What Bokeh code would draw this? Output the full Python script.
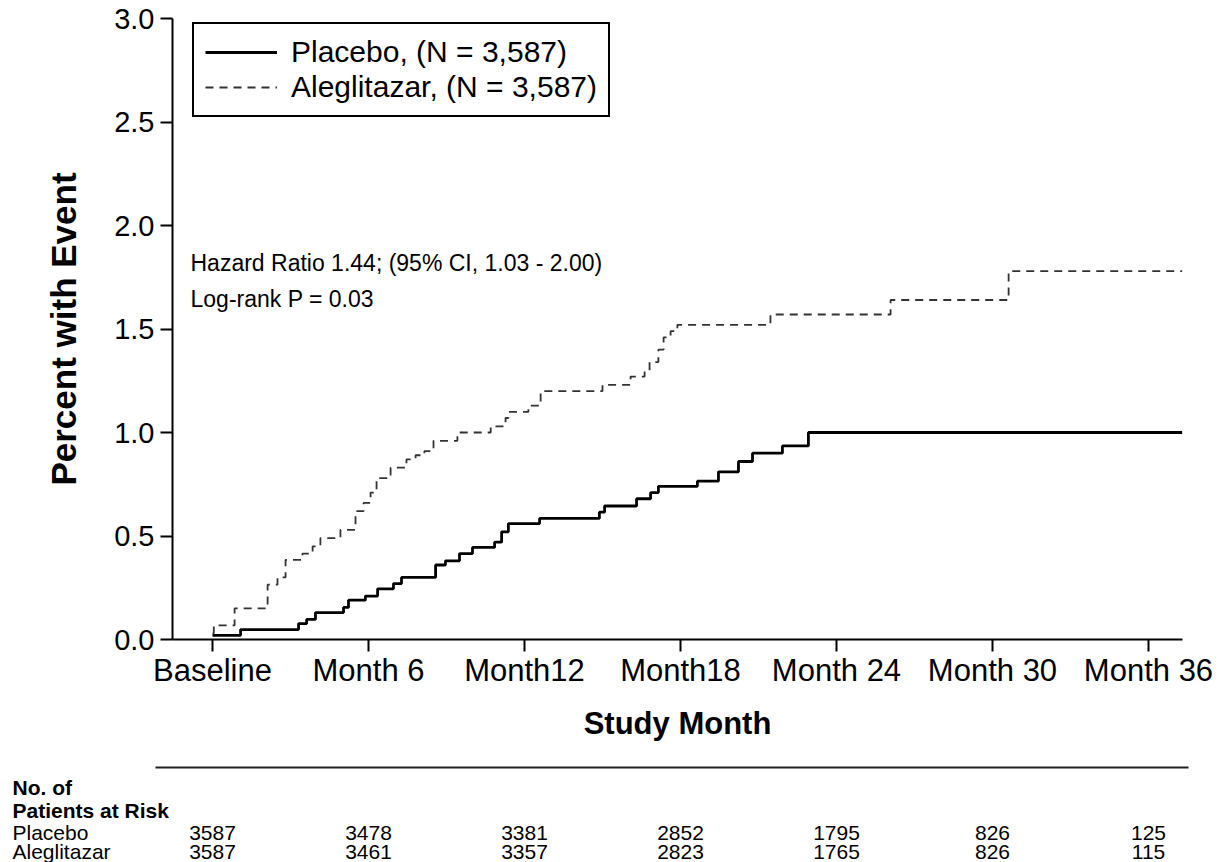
from bokeh.plotting import figure
from bokeh.models import (Range1d, Legend, LegendItem, Label, FixedTicker, PrintfTickFormatter,
                          ColumnDataSource, BoxAnnotation)
from bokeh.layouts import column
from bokeh.embed import file_html
from bokeh.resources import INLINE
from bokeh.core.properties import value

# ---------------- data ----------------
placebo_month = [0, 1.08, 3.31, 3.62, 3.96, 5.04, 5.23, 5.88, 6.35, 6.96, 7.27, 8.58, 8.96, 9.5,
                 10.0, 10.85, 11.12, 11.38, 12.58, 14.88, 15.08, 16.31, 16.85, 17.15, 18.65, 19.46,
                 20.23, 20.77, 21.92, 22.92, 37.3]
placebo_pct = [0.02, 0.048, 0.077, 0.097, 0.13, 0.155, 0.19, 0.21, 0.245, 0.27, 0.30, 0.36, 0.38, 0.415,
               0.445, 0.47, 0.52, 0.56, 0.585, 0.615, 0.645, 0.68, 0.71, 0.74, 0.765, 0.81,
               0.86, 0.90, 0.935, 1.0, 1.0]

alegl_month = [0, 0.05, 0.85, 2.12, 2.5, 2.81, 3.46, 3.85, 4.15, 4.92, 5.5, 5.81, 6.08, 6.31, 6.85,
               7.46, 7.81, 8.15, 8.5, 9.42, 10.7, 11.27, 11.38, 12.15, 12.62, 15.0, 16.08, 16.62,
               16.81, 17.15, 17.35, 17.62, 17.88, 21.46, 26.08, 30.62, 37.3]
alegl_pct = [0.03, 0.068, 0.15, 0.265, 0.30, 0.385, 0.415, 0.45, 0.49, 0.53, 0.62, 0.66, 0.71, 0.78, 0.83,
             0.87, 0.89, 0.91, 0.96, 1.0, 1.03, 1.07, 1.10, 1.13, 1.20, 1.23, 1.27, 1.30,
             1.34, 1.40, 1.46, 1.49, 1.52, 1.57, 1.64, 1.78, 1.78]

tick_months = [0, 6, 12, 18, 24, 30, 36]
tick_labels = ["Baseline", "Month 6", "Month12", "Month18", "Month 24", "Month 30", "Month 36"]
y_ticks = [0.0, 0.5, 1.0, 1.5, 2.0, 2.5, 3.0]

risk_placebo = [3587, 3478, 3381, 2852, 1795, 826, 125]
risk_alegl = [3587, 3461, 3357, 2823, 1765, 826, 115]

FONT = "Liberation Sans"

# ---------------- layout constants ----------------
W = 1227
H1 = 752
H2 = 110
PX_PER_MONTH = 26.0
LEFT = 172          # frame left
FRAME_W = 1010
RIGHT = W - LEFT - FRAME_W
TOP = 18
FRAME_H = 621
x0 = -40.0 / PX_PER_MONTH
x1 = x0 + FRAME_W / PX_PER_MONTH
ZERO_X = LEFT - x0 * PX_PER_MONTH   # screen x of month 0

# ---------------- main figure ----------------
p = figure(width=W, height=H1, output_backend="svg", toolbar_location=None,
           x_range=Range1d(x0, x1), y_range=Range1d(0, 3.0),
           min_border_left=LEFT, min_border_right=RIGHT,
           min_border_top=TOP, min_border_bottom=H1 - TOP - FRAME_H)
p.outline_line_color = None
p.xgrid.grid_line_color = None
p.ygrid.grid_line_color = None
p.background_fill_color = "white"
p.border_fill_color = "white"

r_pl = p.step(placebo_month, placebo_pct, mode="after", line_color="black", line_width=2.8)
r_al = p.step(alegl_month, alegl_pct, mode="after", line_color="#333333", line_width=1.8,
              line_dash="8 6")

xa = p.xaxis[0]
xa.ticker = FixedTicker(ticks=tick_months)
xa.major_label_overrides = {m: lab for m, lab in zip(tick_months, tick_labels)}
xa.minor_tick_line_color = None
xa.major_tick_in = 0
xa.major_tick_out = 12
xa.major_tick_line_width = 2
xa.axis_line_width = 2
xa.major_label_text_font = FONT
xa.major_label_text_font_size = "31px"
xa.major_label_text_color = "black"
xa.major_label_standoff = 1
xa.axis_label = "Study Month"
xa.axis_label_text_font = FONT
xa.axis_label_text_font_style = "bold"
xa.axis_label_text_font_size = "31px"
xa.axis_label_text_color = "black"
xa.axis_label_standoff = 15

ya = p.yaxis[0]
ya.ticker = FixedTicker(ticks=y_ticks)
ya.formatter = PrintfTickFormatter(format="%.1f")
ya.minor_tick_line_color = None
ya.major_tick_in = 0
ya.major_tick_out = 12
ya.major_tick_line_width = 2
ya.axis_line_width = 2
ya.major_label_text_font = FONT
ya.major_label_text_font_size = "29px"
ya.major_label_text_color = "black"
ya.major_label_standoff = 6
ya.axis_label = "Percent with Event"
ya.axis_label_text_font = FONT
ya.axis_label_text_font_style = "bold"
ya.axis_label_text_font_size = "35px"
ya.axis_label_text_color = "black"
ya.axis_label_standoff = 28

legend = Legend(items=[LegendItem(label="Placebo, (N = 3,587)", renderers=[r_pl]),
                       LegendItem(label="Aleglitazar, (N = 3,587)", renderers=[r_al])],
                location=(20, 522))
legend.label_text_font = FONT
legend.label_text_font_size = "30px"
legend.label_text_color = "black"
legend.glyph_width = 72
legend.glyph_height = 30
legend.label_height = 30
legend.label_standoff = 14
legend.spacing = 1
legend.padding = 11
legend.margin = 0
legend.border_line_color = "black"
legend.border_line_alpha = 1.0
legend.border_line_width = 2
legend.background_fill_alpha = 1.0
p.add_layout(legend, "center")

p.add_layout(Label(x=-0.846, y=1.82, text="Hazard Ratio 1.44; (95% CI, 1.03 - 2.00)",
                   text_font=FONT, text_font_size="23px", text_color="black",
                   text_baseline="alphabetic"))
p.add_layout(Label(x=-0.846, y=1.647, text="Log-rank P = 0.03",
                   text_font=FONT, text_font_size="23px", text_color="black",
                   text_baseline="alphabetic"))

# ---------------- risk table figure (full-width frame, same month scale) ----------------
p2 = figure(width=W, height=H2, output_backend="svg", toolbar_location=None,
            x_range=Range1d(-ZERO_X / PX_PER_MONTH, (W - ZERO_X) / PX_PER_MONTH),
            y_range=Range1d(0, H2),
            min_border_left=0, min_border_right=0, min_border_top=0, min_border_bottom=0)
p2.frame_align = False
p2.axis.visible = False
p2.grid.visible = False
p2.outline_line_color = None

# horizontal rule above the table
p2.add_layout(BoxAnnotation(left=155, right=1188, left_units="screen",
                            right_units="screen", bottom=94, top=96,
                            fill_color="#222222", fill_alpha=1.0, line_color=None))

src = ColumnDataSource(dict(m=tick_months, pl=[str(v) for v in risk_placebo],
                            al=[str(v) for v in risk_alegl]))
p2.text(x="m", y=30, text="pl", source=src, text_font=value(FONT), text_font_size="21px",
        text_align="center", text_baseline="alphabetic", text_color="black")
p2.text(x="m", y=11, text="al", source=src, text_font=value(FONT), text_font_size="21px",
        text_align="center", text_baseline="alphabetic", text_color="black")

for txt, yy, st in [("No. of", 75, "bold"), ("Patients at Risk", 52, "bold"),
                    ("Placebo", 30, "normal"), ("Aleglitazar", 11, "normal")]:
    p2.add_layout(Label(x=12, y=yy, x_units="screen", y_units="data", text=txt,
                        text_font=FONT, text_font_size="21px", text_font_style=st,
                        text_color="black", text_baseline="alphabetic"))

layout = column(p, p2, spacing=0)
open("out.html", "w").write(file_html(layout, INLINE))
